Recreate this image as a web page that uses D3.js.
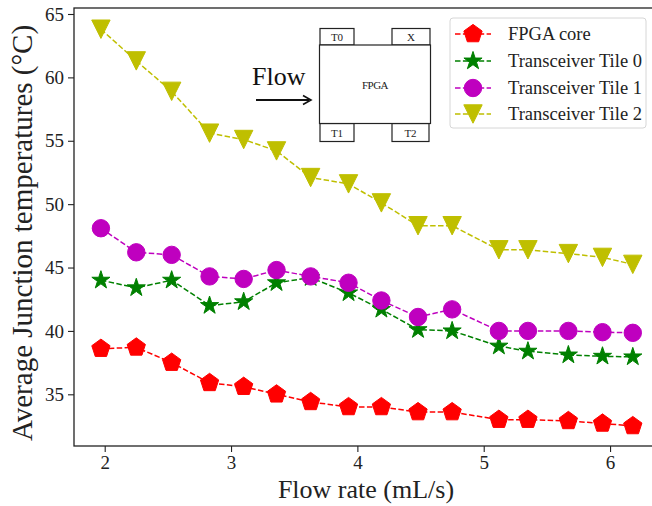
<!DOCTYPE html>
<html>
<head>
<meta charset="utf-8">
<script src="https://cdn.jsdelivr.net/npm/d3@7"></script>
<style>
  html, body { margin: 0; padding: 0; background: #fff; }
  svg { display: block; }
  text { font-family: "Liberation Serif", "Times New Roman", serif; }
</style>
</head>
<body>
<svg id="chart" width="652" height="506"></svg>
<script>
// ---------- data ----------
const flowRates = [1.97, 2.25, 2.53, 2.83, 3.10, 3.36, 3.63, 3.93, 4.19, 4.48, 4.75, 5.12, 5.35, 5.67, 5.94, 6.18];
const fpgaCore  = [38.6, 38.7, 37.5, 35.9, 35.6, 35.0, 34.4, 34.0, 34.0, 33.6, 33.6, 33.0, 33.0, 32.9, 32.7, 32.5];
const tile0     = [44.0, 43.4, 44.0, 42.0, 42.3, 43.8, 44.2, 43.0, 41.7, 40.1, 40.0, 38.8, 38.4, 38.1, 38.0, 37.95];
const tile1     = [48.1, 46.2, 46.0, 44.3, 44.1, 44.8, 44.3, 43.8, 42.4, 41.1, 41.7, 40.0, 40.0, 40.0, 39.9, 39.85];
const tile2     = [63.8, 61.3, 58.9, 55.6, 55.1, 54.2, 52.1, 51.6, 50.1, 48.3, 48.3, 46.4, 46.4, 46.1, 45.8, 45.25];
const seriesNames = ["FPGA core", "Transceiver Tile 0", "Transceiver Tile 1", "Transceiver Tile 2"];
const xTicks = [2, 3, 4, 5, 6];
const yTicks = [35, 40, 45, 50, 55, 60, 65];
const insetLabels = ["T0", "X", "T1", "T2", "FPGA"];

// ---------- layout ----------
const svg = d3.select("#chart");
const plotL = 74, plotT = 8, plotR = 652, plotB = 446;

const x = d3.scaleLinear().domain([1.757, 6.332]).range([plotL, plotR]);
const y = d3.scaleLinear().domain([30.922, 65.473]).range([plotB, plotT]);

const colors = ["#ff0000", "#008000", "#bf00bf", "#bfbf00"];
const seriesData = [fpgaCore, tile0, tile1, tile2];

// marker paths
function pentagonPath(r) {
  const pts = d3.range(5).map(i => {
    const a = -Math.PI / 2 + i * 2 * Math.PI / 5;
    return [r * Math.cos(a), r * Math.sin(a)];
  });
  return "M" + pts.map(p => p.join(",")).join("L") + "Z";
}
function triDownPath(h) {
  return `M0,${h}L${-h},${-h}L${h},${-h}Z`;
}
const markerPaths = [
  pentagonPath(9.6),
  d3.symbol().type(d3.symbolStar).size(102)(),
  d3.symbol().type(d3.symbolCircle).size(Math.PI * 8.7 * 8.7)(),
  triDownPath(9.2)
];

// ---------- axes ----------
const xAxis = d3.axisBottom(x).tickValues(xTicks).tickSize(6).tickPadding(4).tickFormat(d3.format("d"));
const yAxis = d3.axisLeft(y).tickValues(yTicks).tickSize(6).tickPadding(4).tickFormat(d3.format("d"));

const gx = svg.append("g").attr("transform", `translate(0,${plotB})`).call(xAxis);
const gy = svg.append("g").attr("transform", `translate(${plotL},0)`).call(yAxis);
[gx, gy].forEach(g => {
  g.select(".domain").remove();
  g.selectAll(".tick line").attr("stroke", "#222").attr("stroke-width", 1.1);
  g.selectAll(".tick text").attr("fill", "#222").style("font-size", "19px")
    .style("font-family", "'Liberation Serif', serif");
});

// frame (spines) - right spine lies just outside the picture
svg.append("rect")
  .attr("x", plotL).attr("y", plotT)
  .attr("width", plotR - plotL + 4).attr("height", plotB - plotT)
  .attr("fill", "none").attr("stroke", "#222").attr("stroke-width", 1.3);

// ---------- series ----------
const line = d3.line().x(d => x(d[0])).y(d => y(d[1]));
seriesData.forEach((vals, i) => {
  const pts = flowRates.map((fr, j) => [fr, vals[j]]);
  const g = svg.append("g");
  g.append("path").datum(pts)
    .attr("d", line)
    .attr("fill", "none")
    .attr("stroke", colors[i])
    .attr("stroke-width", 1.5)
    .attr("stroke-dasharray", "5.5,2.4");
  g.selectAll("path.m").data(pts).enter().append("path")
    .attr("class", "m")
    .attr("d", markerPaths[i])
    .attr("transform", d => `translate(${x(d[0])},${y(d[1])})`)
    .attr("fill", colors[i])
    .attr("stroke", colors[i])
    .attr("stroke-width", 1);
});

// ---------- inset diagram ----------
const inset = svg.append("g");
const boxStyle = s => s.attr("fill", "#fff").attr("stroke", "#222").attr("stroke-width", 1.2);
const tiles = [
  {x0: 320, y0: 28.5, w: 34, h: 16.5, label: insetLabels[0]},
  {x0: 392, y0: 28.5, w: 38, h: 16.5, label: insetLabels[1]},
  {x0: 320, y0: 123.5, w: 34, h: 18, label: insetLabels[2]},
  {x0: 392, y0: 123.5, w: 37, h: 18, label: insetLabels[3]}
];
tiles.forEach(t => {
  inset.append("rect").attr("x", t.x0).attr("y", t.y0).attr("width", t.w).attr("height", t.h).call(boxStyle);
  inset.append("text").attr("x", t.x0 + t.w / 2).attr("y", t.y0 + t.h / 2 + 4)
    .attr("text-anchor", "middle").style("font-size", "11px").attr("fill", "#222").text(t.label);
});
inset.append("rect").attr("x", 319.5).attr("y", 45).attr("width", 111).attr("height", 78.5).call(boxStyle);
inset.append("text").attr("x", 375).attr("y", 89).attr("text-anchor", "middle")
  .style("font-size", "11px").style("letter-spacing", "-0.5px").attr("fill", "#222").text(insetLabels[4]);

inset.append("text").attr("x", 252).attr("y", 85).style("font-size", "26px").attr("fill", "#111").text("Flow");
inset.append("line").attr("x1", 256).attr("y1", 100).attr("x2", 309).attr("y2", 100)
  .attr("stroke", "#111").attr("stroke-width", 2);
inset.append("path").attr("d", "M303,95.5L311,100L303,104.5")
  .attr("fill", "none").attr("stroke", "#111").attr("stroke-width", 1.6);

// ---------- legend ----------
const lg = svg.append("g");
lg.append("rect").attr("x", 450).attr("y", 18).attr("width", 196).attr("height", 110)
  .attr("rx", 3).attr("fill", "#fff").attr("fill-opacity", 0.85)
  .attr("stroke", "#d6d6d6").attr("stroke-width", 1);
const legendY = [34, 61, 88, 114];
seriesNames.forEach((name, i) => {
  const yy = legendY[i];
  lg.append("line").attr("x1", 455).attr("x2", 491).attr("y1", yy).attr("y2", yy)
    .attr("stroke", colors[i]).attr("stroke-width", 1.5).attr("stroke-dasharray", "5.5,2.4");
  lg.append("path").attr("d", markerPaths[i]).attr("transform", `translate(473,${yy})`)
    .attr("fill", colors[i]).attr("stroke", colors[i]).attr("stroke-width", 1);
  lg.append("text").attr("x", 508).attr("y", yy + 6).style("font-size", "18.5px")
    .attr("fill", "#222").text(name);
});

// ---------- axis labels ----------
svg.append("text").attr("x", 366).attr("y", 498).attr("text-anchor", "middle")
  .style("font-size", "26px").attr("fill", "#222").text("Flow rate (mL/s)");
svg.append("text").attr("transform", "translate(32,233) rotate(-90)").attr("text-anchor", "middle")
  .style("font-size", "29px").attr("fill", "#222").text("Average Junction temperatures (°C)");
</script>
</body>
</html>
